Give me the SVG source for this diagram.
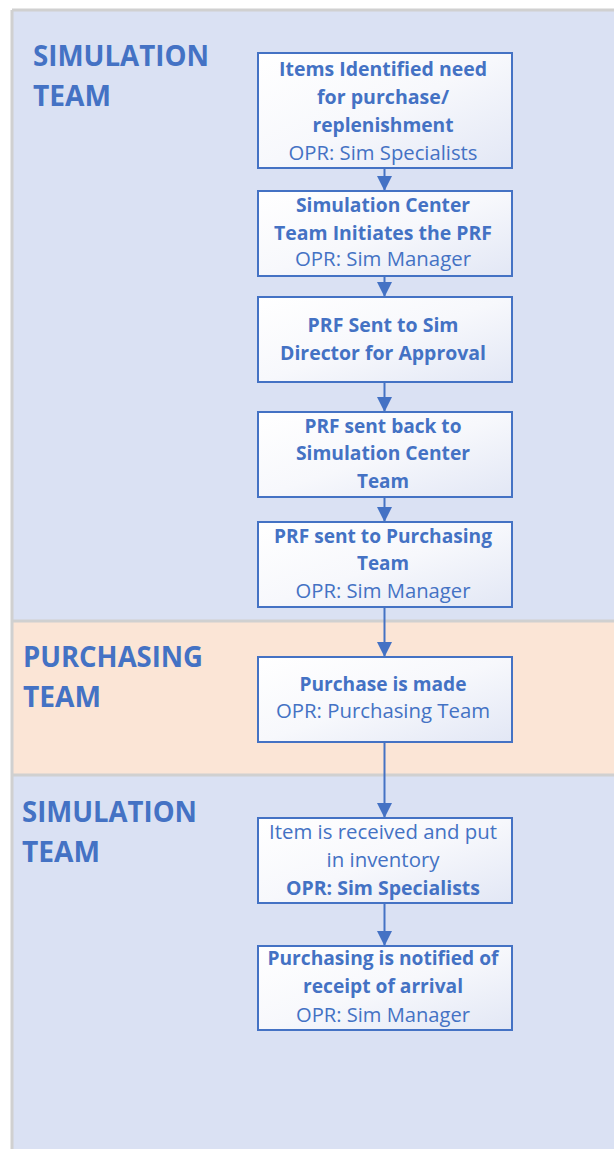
<svg xmlns="http://www.w3.org/2000/svg" width="614" height="1149" viewBox="0 0 614 1149">
  <style>
    .lane-label { font-family: "Open Sans", "Noto Sans", "Liberation Sans", sans-serif; font-weight: 700; font-size: 28px; fill: #4472C4; }
    .box { fill: url(#boxFill); stroke: #4472C4; stroke-width: 2; }
    .t { font-family: "Open Sans", "Noto Sans", "Liberation Sans", sans-serif; font-size: 20px; fill: #4472C4; text-anchor: middle; }
    .b { font-weight: 700; }
    .r { font-weight: 400; }
    .conn { stroke: #4472C4; stroke-width: 2; fill: none; marker-end: url(#arrow); }
    .divider { stroke: #D0D0D0; stroke-width: 3; }
  </style>
  <defs>
    <linearGradient id="boxFill" x1="0" y1="0" x2="1" y2="1">
      <stop offset="0" stop-color="#FFFFFF"/>
      <stop offset="0.5" stop-color="#F7F8FC"/>
      <stop offset="1" stop-color="#E2E7F5"/>
    </linearGradient>
    <marker id="arrow" markerUnits="userSpaceOnUse" markerWidth="15" markerHeight="15" refX="15" refY="7.5" orient="auto">
      <path d="M0,0 L15,7.5 L0,15 z" fill="#4472C4"/>
    </marker>
  </defs>

  <!-- page and swimlane panel -->
  <rect x="0" y="0" width="614" height="1149" fill="#FFFFFF"/>
  <g id="lanes">
    <rect x="12" y="10" width="610" height="611" fill="#DAE1F3"/>
    <rect x="12" y="621" width="610" height="154" fill="#FBE5D6"/>
    <rect x="12" y="775" width="610" height="380" fill="#DAE1F3"/>
    <line x1="12" y1="10" x2="614" y2="10" class="divider"/>
    <line x1="12" y1="10" x2="12" y2="1149" class="divider"/>
    <line x1="12" y1="621" x2="614" y2="621" class="divider"/>
    <line x1="12" y1="775" x2="614" y2="775" class="divider"/>
  </g>

  <!-- lane titles -->
  <g id="lane-simulation-1">
    <text class="lane-label" x="33" y="66" textLength="176" lengthAdjust="spacingAndGlyphs">SIMULATION</text>
    <text class="lane-label" x="33" y="106" textLength="78" lengthAdjust="spacingAndGlyphs">TEAM</text>
  </g>
  <g id="lane-purchasing">
    <text class="lane-label" x="23" y="667" textLength="180" lengthAdjust="spacingAndGlyphs">PURCHASING</text>
    <text class="lane-label" x="23" y="707" textLength="78" lengthAdjust="spacingAndGlyphs">TEAM</text>
  </g>
  <g id="lane-simulation-2">
    <text class="lane-label" x="22" y="822" textLength="175" lengthAdjust="spacingAndGlyphs">SIMULATION</text>
    <text class="lane-label" x="22" y="862" textLength="78" lengthAdjust="spacingAndGlyphs">TEAM</text>
  </g>

  <!-- connectors -->
  <g id="connectors">
    <line class="conn" x1="384.5" y1="168" x2="384.5" y2="191"/>
    <line class="conn" x1="384.5" y1="276" x2="384.5" y2="297"/>
    <line class="conn" x1="384.5" y1="382" x2="384.5" y2="412"/>
    <line class="conn" x1="384.5" y1="497" x2="384.5" y2="522"/>
    <line class="conn" x1="384.5" y1="607" x2="384.5" y2="657"/>
    <line class="conn" x1="384.5" y1="742" x2="384.5" y2="818"/>
    <line class="conn" x1="384.5" y1="903" x2="384.5" y2="946"/>
  </g>

  <!-- process steps -->
  <g id="step-identify">
    <rect class="box" x="258" y="53" width="254" height="115"/>
    <text class="t b" x="383" y="76" textLength="208" lengthAdjust="spacingAndGlyphs">Items Identified need</text>
    <text class="t b" x="383" y="103.5" textLength="132" lengthAdjust="spacingAndGlyphs">for purchase/</text>
    <text class="t b" x="383" y="131.5" textLength="141" lengthAdjust="spacingAndGlyphs">replenishment</text>
    <text class="t r" x="383" y="160" textLength="189" lengthAdjust="spacingAndGlyphs">OPR: Sim Specialists</text>
  </g>
  <g id="step-initiate-prf">
    <rect class="box" x="258" y="191" width="254" height="85"/>
    <text class="t b" x="383" y="211.5" textLength="174" lengthAdjust="spacingAndGlyphs">Simulation Center</text>
    <text class="t b" x="383" y="239.5" textLength="218" lengthAdjust="spacingAndGlyphs">Team Initiates the PRF</text>
    <text class="t r" x="383" y="266" textLength="176" lengthAdjust="spacingAndGlyphs">OPR: Sim Manager</text>
  </g>
  <g id="step-director-approval">
    <rect class="box" x="258" y="297" width="254" height="85"/>
    <text class="t b" x="383" y="331.5" textLength="151" lengthAdjust="spacingAndGlyphs">PRF Sent to Sim</text>
    <text class="t b" x="383" y="360" textLength="206" lengthAdjust="spacingAndGlyphs">Director for Approval</text>
  </g>
  <g id="step-returned">
    <rect class="box" x="258" y="412" width="254" height="85"/>
    <text class="t b" x="383" y="432.5" textLength="157" lengthAdjust="spacingAndGlyphs">PRF sent back to</text>
    <text class="t b" x="383" y="460" textLength="174" lengthAdjust="spacingAndGlyphs">Simulation Center</text>
    <text class="t b" x="383" y="488.3" textLength="52" lengthAdjust="spacingAndGlyphs">Team</text>
  </g>
  <g id="step-to-purchasing">
    <rect class="box" x="258" y="522" width="254" height="85"/>
    <text class="t b" x="383" y="542.5" textLength="218" lengthAdjust="spacingAndGlyphs">PRF sent to Purchasing</text>
    <text class="t b" x="383" y="570" textLength="52" lengthAdjust="spacingAndGlyphs">Team</text>
    <text class="t r" x="383" y="598.3" textLength="175" lengthAdjust="spacingAndGlyphs">OPR: Sim Manager</text>
  </g>
  <g id="step-purchase">
    <rect class="box" x="258" y="657" width="254" height="85"/>
    <text class="t b" x="383" y="691" textLength="167" lengthAdjust="spacingAndGlyphs">Purchase is made</text>
    <text class="t r" x="383" y="718.3" textLength="214" lengthAdjust="spacingAndGlyphs">OPR: Purchasing Team</text>
  </g>
  <g id="step-received">
    <rect class="box" x="258" y="818" width="254" height="85"/>
    <text class="t r" x="383" y="839.3" textLength="228" lengthAdjust="spacingAndGlyphs">Item is received and put</text>
    <text class="t r" x="383" y="866.7" textLength="113" lengthAdjust="spacingAndGlyphs">in inventory</text>
    <text class="t b" x="383" y="895" textLength="194" lengthAdjust="spacingAndGlyphs">OPR: Sim Specialists</text>
  </g>
  <g id="step-notify">
    <rect class="box" x="258" y="946" width="254" height="84"/>
    <text class="t b" x="383" y="965" textLength="231" lengthAdjust="spacingAndGlyphs">Purchasing is notified of</text>
    <text class="t b" x="383" y="993.3" textLength="160" lengthAdjust="spacingAndGlyphs">receipt of arrival</text>
    <text class="t r" x="383" y="1021.7" textLength="174" lengthAdjust="spacingAndGlyphs">OPR: Sim Manager</text>
  </g>
</svg>
